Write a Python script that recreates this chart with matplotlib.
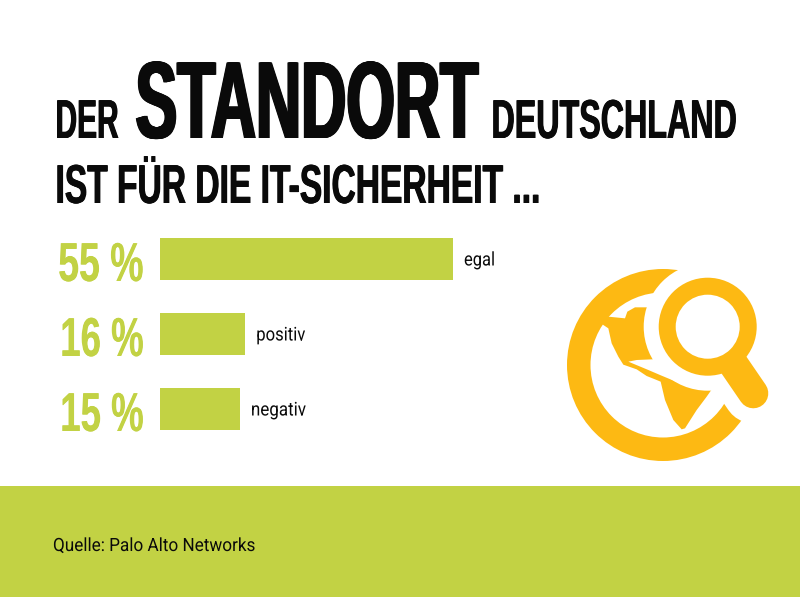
import numpy as np
import matplotlib
matplotlib.use('Agg')
import matplotlib.pyplot as plt
from matplotlib.patches import Circle, Polygon
from matplotlib.patheffects import AbstractPathEffect
from matplotlib.transforms import Affine2D, IdentityTransform

categories = ['egal', 'positiv', 'negativ']
values = [55, 16, 15]
label_widths = [31, 49, 55]
value_widths = [86, 84, 84]
source = 'Quelle: Palo Alto Networks'

GREEN = '#C2D244'
YELLOW = '#FDB913'
BLACK = '#0A0A0A'
W, H = 800, 597

# no condensed headline font here, so the text is set to width and stretched upwards when drawn
class Stretch(AbstractPathEffect):
    def __init__(self, sy, y0, bold=0):
        super().__init__()
        self.sy = sy
        self.y0 = y0
        self.bold = bold

    def draw_path(self, renderer, gc, tpath, affine, rgbFace=None):
        tall = Affine2D().translate(0, -self.y0).scale(1, self.sy).translate(0, self.y0)
        for dx in np.arange(0, self.bold + 0.01, 0.5):
            renderer.draw_path(gc, tpath, affine + tall + Affine2D().translate(dx, 0), rgbFace)


def tallText(fig, x, baseline, s, cap, width, color=BLACK, bold=0, family='Liberation Sans', weight='bold', cap_ratio=0.729):
    t = fig.text(x, H - baseline, s, fontsize=20, color=color, family=family, weight=weight,
                 ha='left', va='baseline', transform=IdentityTransform(), zorder=10)
    full = t.get_window_extent(fig.canvas.get_renderer()).width
    size = 20 * (width - bold) / full
    t.set_fontsize(size)
    t.set_path_effects([Stretch(cap / (size / 0.72 * cap_ratio), H - baseline, bold)])
    return t


fig = plt.figure(figsize=(8, 5.97), dpi=100, facecolor='white')

# background band and icon in pixel coordinates
bg = fig.add_axes([0, 0, 1, 1])
bg.set_xlim(0, W)
bg.set_ylim(H, 0)
bg.axis('off')
bg.add_patch(plt.Rectangle((0, 486), W, H - 486, color=GREEN, lw=0))


def z(points):
    # icon outline
    return [(540 + px / 3, 250 + py / 3) for px, py in points]


cx, cy = 663, 365
bg.add_patch(Circle((cx, cy), 96, color=YELLOW, lw=0, zorder=3))
bg.add_patch(Circle((cx, cy), 72.5, color='white', lw=0, zorder=3))
bg.add_patch(Polygon(z([(205, 200), (255, 205), (262, 185), (285, 172), (312, 172), (340, 172), (360, 327),
                        (290, 330), (265, 335), (325, 360), (360, 375), (420, 400), (470, 415), (514, 420),
                        (500, 440), (470, 480), (435, 535), (425, 538), (400, 510), (375, 450), (362, 395),
                        (345, 388), (320, 378), (290, 358), (250, 344), (235, 320), (215, 280), (205, 235),
                        (190, 225), (180, 215)]), color=YELLOW, lw=0, zorder=4))
mx, my = 707.7, 326.7
hx, hy = 753.3, 393.3
bg.plot([mx, hx], [my, hy], color='white', lw=60 * 0.72, solid_capstyle='round', zorder=5)
bg.add_patch(Circle((mx, my), 64, color='white', lw=0, zorder=6))
bg.plot([mx, hx], [my, hy], color=YELLOW, lw=30 * 0.72, solid_capstyle='round', zorder=7)
bg.add_patch(Circle((mx, my), 49, color=YELLOW, lw=0, zorder=8))
bg.add_patch(Circle((mx, my), 32, color='white', lw=0, zorder=9))

# bars
ax = fig.add_axes([160 / W, (H - 446.5) / H, 293 / W, 225 / H])
ax.patch.set_alpha(0)
y = np.arange(len(categories))
ax.barh(y, values, height=0.567, color=GREEN)
ax.set_xlim(0, max(values))
ax.set_ylim(2.5, -0.5)
ax.axis('off')

for i in range(len(categories)):
    px, py = ax.transData.transform((values[i], y[i]))
    row = H - py
    tallText(fig, px + 11, row + 6.5, categories[i], 13.5, label_widths[i], family='Roboto', weight='normal', cap_ratio=0.711)
    tallText(fig, 144 - value_widths[i], row + 22, str(values[i]) + ' %', 40, value_widths[i], color=GREEN, bold=0.5)

# headline
tallText(fig, 55, 138, 'DER', 40, 64, bold=1)
tallText(fig, 134, 138, 'STANDORT', 80, 345, bold=3)
tallText(fig, 491, 138, 'DEUTSCHLAND', 40, 246, bold=1)
tallText(fig, 55, 203, 'IST FÜR DIE IT-SICHERHEIT ...', 40, 486, bold=1)

tallText(fig, 53, 551, source, 13, 202, family='Roboto', weight='normal', cap_ratio=0.711)

fig.savefig('out.png', dpi=100)
